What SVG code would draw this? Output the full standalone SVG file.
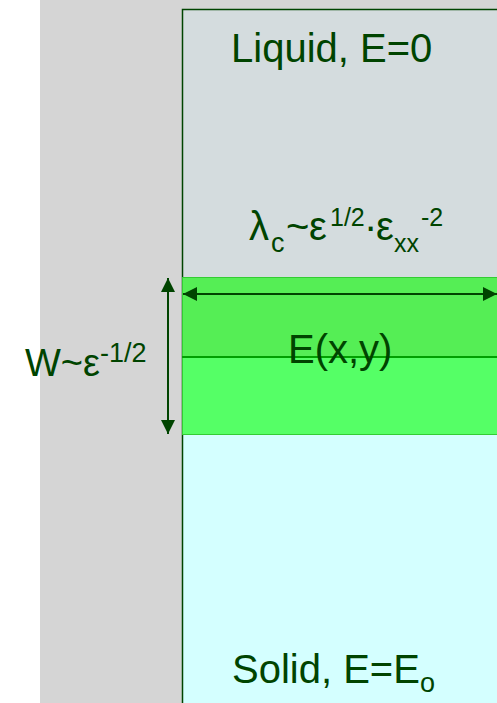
<svg xmlns="http://www.w3.org/2000/svg" width="497" height="703" viewBox="0 0 497 703">
<style>
  .t { font-family: "Liberation Sans", Arial, sans-serif; fill: #004400; }
  .big { font-size: 40px; }
  .small { font-size: 27px; }
  .sup { font-size: 25px; }
  .arrow { stroke: #004400; stroke-width: 2; fill: none; }
</style>
<defs>
  <marker id="ah" viewBox="0 0 14 14" refX="14" refY="7" markerWidth="14" markerHeight="14" markerUnits="userSpaceOnUse" orient="auto-start-reverse">
    <path d="M0,0 L14,7 L0,14 Z" fill="#004400"/>
  </marker>
</defs>
<rect x="0" y="0" width="497" height="703" fill="#ffffff"/>
<rect x="40" y="0" width="457" height="703" fill="#D5D5D5"/>
<g id="liquid">
  <rect x="182" y="9" width="320" height="268" fill="#D4DCDE"/>
  <text class="t big" x="231" y="62">Liquid, E=0</text>
</g>
<g id="solid">
  <rect x="182" y="435" width="320" height="270" fill="#D4FFFF"/>
  <text class="t big" x="232" y="683">Solid, E=E<tspan class="small" dy="9">o</tspan></text>
</g>
<path d="M182.5,703 V9.5 H497" fill="none" stroke="#004400" stroke-width="1.5"/>
<g id="interface">
  <rect x="182" y="277" width="320" height="80" fill="#55EE55"/>
  <rect x="182" y="357" width="320" height="78" fill="#55FF66"/>
  <rect x="182.5" y="277.5" width="320" height="157" fill="none" stroke="#33CC33" stroke-width="1"/>
  <line x1="182" y1="357" x2="497" y2="357" stroke="#00A000" stroke-width="2"/>
  <text class="t big" x="288" y="363">E(x,y)</text>
</g>
<g id="lambda-label">
  <text class="t big" x="249" y="240">λ<tspan class="small" x="271" y="252">c</tspan><tspan x="286" y="240">~</tspan><tspan x="309" y="240">ε</tspan><tspan class="sup" x="330" y="226">1/2</tspan><tspan x="364" y="240">·</tspan><tspan x="376" y="240">ε</tspan><tspan class="sup" x="394" y="252">xx</tspan><tspan class="sup" x="421" y="226">-2</tspan></text>
</g>
<g id="width-label">
  <text class="t" font-size="38" x="25" y="376">W~ε<tspan class="small" y="362">-1/2</tspan></text>
</g>
<g id="connectors">
  <line class="arrow" x1="183" y1="294" x2="497" y2="294" marker-start="url(#ah)" marker-end="url(#ah)"/>
  <line class="arrow" x1="168" y1="278" x2="168" y2="434" marker-start="url(#ah)" marker-end="url(#ah)"/>
</g>
</svg>
